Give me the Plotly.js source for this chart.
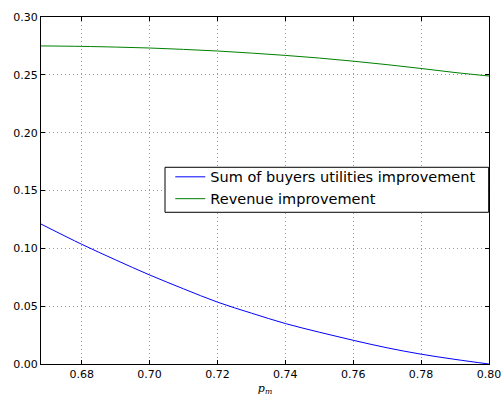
<!DOCTYPE html>
<html><head><meta charset="utf-8">
<script src="https://cdn.plot.ly/plotly-3.0.1.min.js"></script>
<style>html,body{margin:0;padding:0;background:#fff}#chart{width:501px;height:396px}</style>
</head><body><div id="chart"></div>
<script>
const pm = [0.668, 0.68, 0.69, 0.70, 0.71, 0.72, 0.73, 0.74, 0.75, 0.76, 0.77, 0.78, 0.79, 0.80];
const buyersImprovement = [0.121, 0.1035, 0.090, 0.0770, 0.0650, 0.0535, 0.0440, 0.0350, 0.0275, 0.0205, 0.0140, 0.0085, 0.0040, 0.0000];
const revenueImprovement = [0.2750, 0.2746, 0.2740, 0.2732, 0.2720, 0.2706, 0.2688, 0.2668, 0.2645, 0.2618, 0.2588, 0.2555, 0.2520, 0.2490];
const seriesNames = ["Sum of buyers utilities improvement", "Revenue improvement"];

const font = {family: "DejaVu Sans", size: 11, color: "#000"};
const axisCommon = {
  showline: true, linecolor: "#000", linewidth: 1, mirror: "ticks",
  ticks: "inside", ticklen: 4, tickcolor: "#000", tickwidth: 1,
  showgrid: true, gridcolor: "#9a9a9a", griddash: "1px,3px", gridwidth: 1,
  zeroline: false, tickfont: font, tickformat: ".2f", ticklabeloverflow: "allow"
};
const data = [
  {x: pm, y: buyersImprovement, name: seriesNames[0], type: "scatter", mode: "lines", line: {color: "#0000ff", width: 1, shape: "spline"}},
  {x: pm, y: revenueImprovement, name: seriesNames[1], type: "scatter", mode: "lines", line: {color: "#008000", width: 1, shape: "spline"}}
];
const layout = {
  width: 501, height: 396,
  margin: {l: 41, r: 12, t: 17, b: 32},
  paper_bgcolor: "#fff", plot_bgcolor: "#fff",
  font: font, showlegend: true,
  xaxis: Object.assign({}, axisCommon, {range: [0.668, 0.80003], tick0: 0.68, dtick: 0.02,
    title: {text: "<i>p</i><sub><i>m</i></sub>", font: {family: "DejaVu Serif", size: 11, color: "#000"}, standoff: 6}}),
  yaxis: Object.assign({}, axisCommon, {range: [0, 0.30], tick0: 0, dtick: 0.05}),
  shapes: [{type: "rect", xref: "paper", yref: "paper", x0: 0.2768, x1: 0.9993, y0: 0.4372, y1: 0.5669,
    line: {color: "#000", width: 1}, fillcolor: "#fff", layer: "above"}],
  legend: {x: 0.2886, y: 0.5853, xanchor: "left", yanchor: "top", borderwidth: 0,
    bgcolor: "rgba(0,0,0,0)", font: {family: "DejaVu Sans", size: 14.5, color: "#000"}, tracegroupgap: 0}
};
Plotly.newPlot("chart", data, layout, {staticPlot: true, displayModeBar: false});
</script></body></html>
